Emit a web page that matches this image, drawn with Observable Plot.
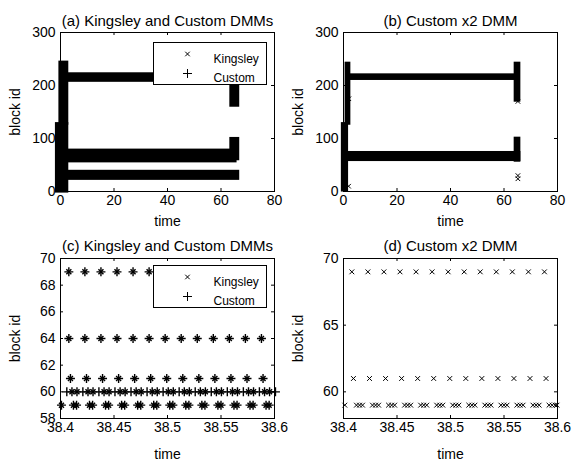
<!DOCTYPE html>
<html><head><meta charset="utf-8">
<script src="https://cdn.jsdelivr.net/npm/d3@7"></script>
<script src="https://cdn.jsdelivr.net/npm/@observablehq/plot@0.6"></script>
<style>
body{margin:0;background:#fff;}
#fig{position:relative;width:573px;height:460px;background:#fff;overflow:hidden;}
#fig > svg{position:absolute;overflow:visible;}
</style></head><body><div id="fig"></div>
<script>
// ---------- top panels: overview (time 0..80, block id 0..300) ----------
const topXTicks = [0, 20, 40, 60, 80];
const topYTicks = [0, 100, 200, 300];
// panel (a): dense marker bands, read as extents (time1, time2, id1, id2)
const aBandT1 = [1, 1, 1, -0.6, -1.9, 63.3, 63.3];
const aBandT2 = [65.5, 66, 67, 3.1, 3.1, 67, 67];
const aBandY1 = [206, 54, 21, 125, -3, 159, 58];
const aBandY2 = [224, 80, 40, 246, 130, 215, 102];
// panel (b)
const bBandT1 = [1, 1, 0.6, -0.8, 63.8, 63.8];
const bBandT2 = [66, 66.3, 2.75, 1.9, 66.3, 66.3];
const bBandY1 = [209.5, 56.5, 125, -1, 168.5, 55.3];
const bBandY2 = [222, 75.5, 244, 130, 244, 102.5];
const bPointT = [1.9, 2.0, 65.2, 65.2, 65.2];
const bPointY = [10, 175, 170, 30, 24];

// ---------- bottom panels: zoom (time 38.4..38.6, block id 58..70) ----------
const botXTicks = [38.4, 38.45, 38.5, 38.55, 38.6];
const botXLabels = ["38.4", "38.45", "38.5", "38.55", "38.6"];
const cYTicks = [58, 60, 62, 64, 66, 68, 70];
const dYTicks = [60, 65, 70];
// (c) Kingsley and Custom share these times
const cT69 = [38.4078,38.4228,38.4378,38.4528,38.4678,38.4828,38.4978,38.5128,38.5278,38.5428,38.5578,38.5728,38.5878];
const cT64 = [38.4078,38.4228,38.4378,38.4528,38.4678,38.4828,38.4978,38.5128,38.5278,38.5428,38.5578,38.5728,38.5878];
const cT61 = [38.4093,38.4243,38.4393,38.4543,38.4693,38.4843,38.4993,38.5143,38.5293,38.5443,38.5593,38.5743,38.5893];
const cT60a = [38.4107,38.4257,38.4407,38.4557,38.4707,38.4857,38.5007,38.5157,38.5307,38.5457,38.5607,38.5757,38.5907];
const cT60b = [38.4154,38.4304,38.4454,38.4604,38.4754,38.4904,38.5054,38.5204,38.5354,38.5504,38.5654,38.5804,38.5954];
const cT59a = [38.4009,38.4121,38.4271,38.4421,38.4571,38.4721,38.4871,38.5021,38.5171,38.5321,38.5471,38.5621,38.5771,38.5921];
const cT59b = [38.4150,38.4300,38.4450,38.4600,38.4750,38.4900,38.5050,38.5200,38.5350,38.5500,38.5650,38.5800,38.5950];
// (c) Custom only, between the clusters at id 60
const cCustomT60 = [38.4059,38.4209,38.4359,38.4509,38.4659,38.4809,38.4959,38.5109,38.5259,38.5409,38.5559,38.5709,38.5859,38.6009];
// (d) Custom x2
const dT69 = [38.4078,38.4228,38.4378,38.4528,38.4678,38.4828,38.4978,38.5128,38.5278,38.5428,38.5578,38.5728,38.5878];
const dT61 = [38.4093,38.4243,38.4393,38.4543,38.4693,38.4843,38.4993,38.5143,38.5293,38.5443,38.5593,38.5743,38.5893];
const dT59a = [38.4012,38.4121,38.4271,38.4421,38.4571,38.4721,38.4871,38.5021,38.5171,38.5321,38.5471,38.5621,38.5771,38.5921];
const dT59b = [38.4150,38.4300,38.4450,38.4600,38.4750,38.4900,38.5050,38.5200,38.5350,38.5500,38.5650,38.5800,38.5950];
const dT59c = [38.4178,38.4328,38.4478,38.4628,38.4778,38.4928,38.5078,38.5228,38.5378,38.5528,38.5678,38.5828,38.5978,38.5995];

const legendNames = ["Kingsley", "Custom"];
const titles = ["(a) Kingsley and Custom DMMs", "(b) Custom x2 DMM", "(c) Kingsley and Custom DMMs", "(d) Custom x2 DMM"];

// ---------- helpers ----------
const FONT = '"Liberation Sans", Arial, Helvetica, sans-serif';
const toBands = (t1, t2, y1, y2) => t1.map((v, i) => ({t1: v, t2: t2[i], y1: y1[i], y2: y2[i]}));
const rows = (pairs) => pairs.flatMap(([y, ts]) => ts.map(t => ({t, y})));

function legendMarks(top, fh) {
  return [
    Plot.frame({fill: "white", stroke: "black", strokeWidth: 1, insetLeft: 93, insetRight: 8, insetTop: top, insetBottom: fh - top - 42}),
    Plot.dot([0], {frameAnchor: "top-left", dx: 127, dy: top + 11.5, symbol: "times", r: 2.2, stroke: "black", strokeWidth: 1}),
    Plot.dot([0], {frameAnchor: "top-left", dx: 127, dy: top + 31, symbol: "plus", r: 3, stroke: "black", strokeWidth: 1}),
    Plot.text([legendNames[0]], {frameAnchor: "top-left", dx: 153, dy: top + 11.5, textAnchor: "start", fontSize: 12, fill: "black"}),
    Plot.text([legendNames[1]], {frameAnchor: "top-left", dx: 153, dy: top + 31, textAnchor: "start", fontSize: 12, fill: "black"})
  ];
}

function panel({left, top, width, height, mL, mR, mT, mB, xDomain, yDomain, xTicks, yTicks, xFormat, title, titleDy, labelOffsetX, legendTop, marks}) {
  const fw = width - mL - mR, fh = height - mT - mB, tk = 3;
  const svg = Plot.plot({
    width, height, marginLeft: mL, marginRight: mR, marginTop: mT, marginBottom: mB,
    x: {domain: xDomain}, y: {domain: yDomain},
    style: {fontFamily: FONT, fontSize: "14px", color: "black", background: "transparent", overflow: "visible"},
    marks: [
      ...marks,
      Plot.tickX(xTicks, {stroke: "black", insetBottom: fh - tk}),
      Plot.tickX(xTicks, {stroke: "black", insetTop: fh - tk}),
      Plot.tickY(yTicks, {stroke: "black", insetRight: fw - tk}),
      Plot.tickY(yTicks, {stroke: "black", insetLeft: fw - tk}),
      Plot.frame({stroke: "black", strokeWidth: 1}),
      ...(legendTop != null ? legendMarks(legendTop, fh) : []),
      Plot.axisX({ticks: xTicks, tickFormat: xFormat, tickSize: 0, tickPadding: 4, label: "time", labelAnchor: "center", labelOffset: labelOffsetX, labelArrow: "none", fill: "black"}),
      Plot.axisY({ticks: yTicks, tickSize: 0, tickPadding: 5, label: "block id", labelAnchor: "center", labelOffset: 50, labelArrow: "none", fill: "black"}),
      Plot.text([title], {frameAnchor: "top", dy: titleDy, fontSize: 15, fill: "black"})
    ]
  });
  svg.style.left = left + "px";
  svg.style.top = top + "px";
  document.getElementById("fig").appendChild(svg);
}

const rectOpts = {x1: "t1", x2: "t2", y1: "y1", y2: "y2", fill: "black"};
const fmtTop = d => String(d);
const fmtBot = d => botXLabels[botXTicks.indexOf(d)];

panel({left: 0, top: 0, width: 286, height: 230, mL: 60, mR: 12, mT: 32, mB: 39,
  xDomain: [0, 80], yDomain: [0, 300], xTicks: topXTicks, yTicks: topYTicks, xFormat: fmtTop,
  title: titles[0], titleDy: -17, labelOffsetX: 34, legendTop: 10,
  marks: [Plot.rect(toBands(aBandT1, aBandT2, aBandY1, aBandY2), rectOpts)]});

panel({left: 286, top: 0, width: 287, height: 230, mL: 57, mR: 16, mT: 32, mB: 39,
  xDomain: [0, 80], yDomain: [0, 300], xTicks: topXTicks, yTicks: topYTicks, xFormat: fmtTop,
  title: titles[1], titleDy: -17, labelOffsetX: 34, legendTop: null,
  marks: [
    Plot.rect(toBands(bBandT1, bBandT2, bBandY1, bBandY2), rectOpts),
    Plot.dot(bPointT.map((t, i) => ({t, y: bPointY[i]})), {x: "t", y: "y", symbol: "times", r: 2.2, stroke: "black", strokeWidth: 1})
  ]});

const cBoth = rows([[69, cT69], [64, cT64], [61, cT61], [60, cT60a], [60, cT60b], [59, cT59a], [59, cT59b]]);
const cCustom = cBoth.concat(rows([[60, cCustomT60]]));
panel({left: 0, top: 230, width: 286, height: 230, mL: 60, mR: 12, mT: 28, mB: 42,
  xDomain: [38.4, 38.6], yDomain: [58, 70], xTicks: botXTicks, yTicks: cYTicks, xFormat: fmtBot,
  title: titles[2], titleDy: -18, labelOffsetX: 40, legendTop: 7,
  marks: [
    Plot.dot(cBoth, {x: "t", y: "y", symbol: "times", r: 2.4, stroke: "black", strokeWidth: 1.4}),
    Plot.dot(cCustom, {x: "t", y: "y", symbol: "plus", r: 3, stroke: "black", strokeWidth: 1.4})
  ]});

const dAll = rows([[69, dT69], [61, dT61], [59, dT59a], [59, dT59b], [59, dT59c]]);
panel({left: 286, top: 230, width: 287, height: 230, mL: 57, mR: 16, mT: 28, mB: 42,
  xDomain: [38.4, 38.6], yDomain: [58, 70], xTicks: botXTicks, yTicks: dYTicks, xFormat: fmtBot,
  title: titles[3], titleDy: -18, labelOffsetX: 40, legendTop: null,
  marks: [
    Plot.dot(dAll, {x: "t", y: "y", symbol: "times", r: 2.3, stroke: "black", strokeWidth: 1})
  ]});
</script></body></html>
